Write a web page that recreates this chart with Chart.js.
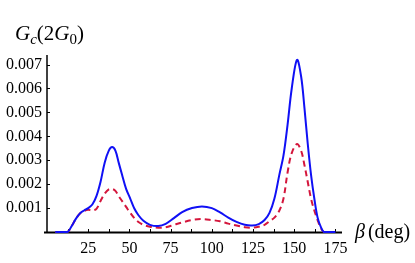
<!DOCTYPE html>
<html>
<head>
<meta charset="utf-8">
<script src="https://cdn.jsdelivr.net/npm/chart.js@4/dist/chart.umd.min.js"></script>
<style>
  html, body { margin: 0; padding: 0; background: #ffffff; }
  #wrap { position: relative; width: 415px; height: 263px; }
</style>
</head>
<body>
<div id="wrap"><canvas id="c" width="415" height="263"></canvas></div>
<script>
// Angle beta (deg)
const betaDeg = [5,10,12.5,15,17.5,20,22.5,25,27.5,30,32.5,35,37.5,39.5,41.5,43.5,45.5,48,50.5,53,55.5,58.5,62.5,67.5,72,77,82,88,94,100,105,110,115,120,124.5,128.5,132,135,138,141,143.5,146,148.5,151.7,154.2,156.2,158.2,160.2,162.2,164.2,166.2,168,171,175];
// Solid blue curve
const gcSolid = [0,0,0,0.00025,0.00055,0.00078,0.0009,0.001,0.00115,0.0015,0.0021,0.0029,0.0034,0.00355,0.0034,0.0029,0.0024,0.0018,0.0014,0.00098,0.0007,0.00047,0.0003,0.00025,0.00034,0.00058,0.00083,0.001,0.00107,0.001,0.00082,0.0006,0.00042,0.0003,0.00027,0.00033,0.0005,0.0008,0.0014,0.0024,0.0032,0.0045,0.006,0.0072,0.0065,0.0052,0.0037,0.0024,0.0014,0.0006,0.0002,0,0,0];
// Dashed red curve
const gcDashed = [0,0,0,0.00025,0.00055,0.00077,0.00088,0.00093,0.0009,0.00097,0.0013,0.0016,0.00178,0.0018,0.00172,0.0015,0.0013,0.00105,0.0008,0.00058,0.00042,0.0003,0.00022,0.00018,0.0002,0.0003,0.0004,0.0005,0.00054,0.0005,0.00045,0.00035,0.00027,0.0002,0.00018,0.00022,0.0003,0.00045,0.0006,0.0009,0.0014,0.0025,0.0033,0.00368,0.0034,0.0028,0.0021,0.0014,0.0009,0.0005,0.00015,0,0,0];
// Tick labels
const xTickValues = [25,50,75,100,125,150,175];
const xMinorTicks = [12.5,37.5,62.5,87.5,112.5,137.5,162.5];
const yTickValues = [0.001,0.002,0.003,0.004,0.005,0.006,0.007];

const toPts = (ys) => betaDeg.map((x, i) => ({x: x, y: ys[i]}));

const SERIF = '"Liberation Serif", "DejaVu Serif", serif';

const insideTicks = {
  id: 'insideTicks',
  beforeDraw(chart) {
    const ctx = chart.ctx;
    const xs = chart.scales.x, ys = chart.scales.y;
    const a = chart.chartArea;
    ctx.save();
    ctx.strokeStyle = '#000';
    ctx.lineWidth = 1;
    xTickValues.concat(xMinorTicks).forEach(v => {
      const px = Math.round(xs.getPixelForValue(v)) + 0.5;
      ctx.beginPath();
      ctx.moveTo(px, a.bottom);
      ctx.lineTo(px, a.bottom - 3);
      ctx.stroke();
    });
    yTickValues.forEach(v => {
      const py = Math.round(ys.getPixelForValue(v)) + 0.5;
      ctx.beginPath();
      ctx.moveTo(a.left, py);
      ctx.lineTo(a.left + 3, py);
      ctx.stroke();
    });
    // axes lines
    ctx.lineWidth = 2;
    ctx.beginPath();
    ctx.moveTo(a.left - 3, a.bottom + 0.5);
    ctx.lineTo(a.right, a.bottom + 0.5);
    ctx.stroke();
    ctx.lineWidth = 1.5;
    ctx.beginPath();
    ctx.moveTo(a.left, a.top);
    ctx.lineTo(a.left, a.bottom);
    ctx.stroke();
    ctx.restore();
  },
  afterDraw(chart) {
    const ctx = chart.ctx;
    ctx.save();
    ctx.fillStyle = '#000';
    ctx.textBaseline = 'alphabetic';
    ctx.textAlign = 'left';
    // Title G_c(2G_0)
    let x = 15;
    const base = 40;
    const parts = [
      {t: 'G', f: 'italic 21px ' + SERIF, dy: 0},
      {t: 'c', f: 'italic 15px ' + SERIF, dy: 4},
      {t: '(2', f: '21px ' + SERIF, dy: 0},
      {t: 'G', f: 'italic 21px ' + SERIF, dy: 0},
      {t: '0', f: '15px ' + SERIF, dy: 4},
      {t: ')', f: '21px ' + SERIF, dy: 0}
    ];
    parts.forEach(p => {
      ctx.font = p.f;
      ctx.fillText(p.t, x, base + p.dy);
      x += ctx.measureText(p.t).width;
    });
    // x label beta (deg)
    let bx = 355;
    const bb = 238;
    ctx.font = 'italic 20px ' + SERIF;
    ctx.fillText('\u03B2', bx, bb);
    bx += ctx.measureText('\u03B2').width + 3;
    ctx.font = '20px ' + SERIF;
    ctx.fillText('(deg)', bx, bb);
    ctx.restore();
  }
};

new Chart(document.getElementById('c'), {
  type: 'line',
  data: {
    datasets: [
      {
        data: toPts(gcSolid),
        borderColor: '#1010f5',
        borderWidth: 2,
        pointRadius: 0,
        fill: false,
        tension: 0.35,
        clip: 6
      },
      {
        data: toPts(gcDashed),
        borderColor: '#d4163c',
        borderWidth: 2,
        borderDash: [6, 4],
        pointRadius: 0,
        fill: false,
        tension: 0.35,
        clip: 6
      }
    ]
  },
  options: {
    responsive: false,
    animation: false,
    layout: { padding: { top: 55, right: 73, left: 0, bottom: 0 } },
    plugins: { legend: { display: false }, tooltip: { enabled: false } },
    scales: {
      x: {
        type: 'linear',
        min: 0,
        max: 179,
        afterBuildTicks: (s) => { s.ticks = xTickValues.map(v => ({value: v})); },
        afterFit: (s) => { s.height = 31; },
        grid: { display: false, drawTicks: false },
        border: { display: false },
        ticks: {
          font: { family: SERIF, size: 16 },
          color: '#000',
          padding: 7,
          maxRotation: 0,
          autoSkip: false,
          callback: (v) => String(v)
        }
      },
      y: {
        type: 'linear',
        min: 0,
        max: 0.0074,
        afterBuildTicks: (s) => { s.ticks = yTickValues.map(v => ({value: v})); },
        afterFit: (s) => { s.width = 47; },
        grid: { display: false, drawTicks: false },
        border: { display: false },
        ticks: {
          font: { family: SERIF, size: 16 },
          color: '#000',
          padding: 5,
          autoSkip: false,
          callback: (v) => Number(v).toFixed(3)
        }
      }
    }
  },
  plugins: [insideTicks]
});
</script>
</body>
</html>
